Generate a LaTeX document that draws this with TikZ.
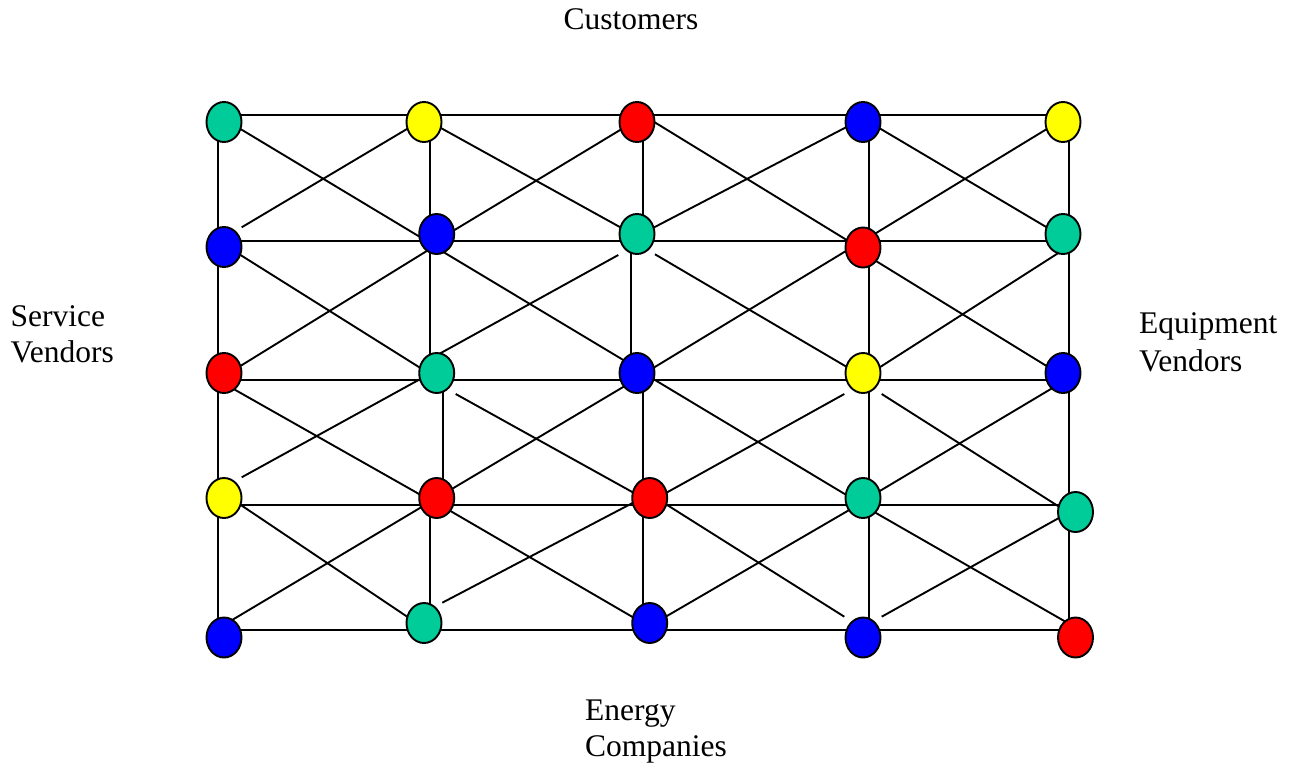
\documentclass[tikz,border=0pt]{standalone}
\usepackage{fontspec}
\setmainfont{Liberation Serif}
\usetikzlibrary{shapes.geometric}
\definecolor{cgreen}{RGB}{0,204,153}
\definecolor{cred}{RGB}{255,0,0}
\definecolor{cyellow}{RGB}{255,255,0}
\definecolor{cblue}{RGB}{0,0,255}
\tikzset{
  edge/.style={draw=black, line width=1.9pt},
  vtx/.style={ellipse, draw=black, line width=1.9pt, minimum width=35pt, minimum height=40pt, inner sep=0pt},
  lbl/.style={inner sep=0pt, anchor=base west, font=\fontsize{31.5}{37}\selectfont}
}
\begin{document}
\begin{tikzpicture}[x=1pt,y=-1pt]
\useasboundingbox[fill=white] (0,0) rectangle (1299,771);
% grid and diagonal connectors
\foreach \n/\a/\b/\c/\d in {
 h1/217.7/115.3/1069.3/115.3, h2/217.7/240.7/1069.3/240.7, h3/217.7/380/1069.3/380,
 h4/217.7/505/1069.3/505, h5/217.7/630/1069.3/630,
 va/217.7/115.3/217.7/630,
 vb/430/115.3/430/380, vc/442.7/380/442.7/505, vd/430/505/430/630,
 ve/643.3/115.3/643.3/240.7, vf/631/240.7/631/380, vg/643.3/380/643.3/630,
 vh/869/115.3/869/630, vi/1069.3/115.3/1069.3/630,
 d1/217.7/115.3/430/243, d2/241.7/227.3/430/115.3,
 d3/217.7/240.7/430/374, d4/217.7/380/430/249,
 d5/430/122/643.3/240, d6/433/243/643.3/116,
 d7/430/244/643.3/372, d8/430/359/618.3/255,
 d9/643.3/115.3/863/250, d10/643.3/233/869/115.3,
 d11/869/122/1069.3/240.7, d12/863/241/1069.3/115.3,
 d13/655/254.3/869/380, d14/643.3/374/869/237,
 d15/863/253/1069.3/380, d16/863/378/1069.3/246,
 d17/217.7/380/436.7/504, d18/241.7/477.3/436.7/370,
 d19/220/491/424/628, d20/217.7/628.6/436.7/498,
 d21/455.7/394/649.7/501.7, d22/436.7/498/643.3/375,
 d23/436.7/503/649.7/627, d24/442.3/602.7/649.7/494,
 d25/643.3/373/863/505, d26/649.7/502/844.3/394,
 d27/881.7/394/1069/513, d28/863/501/1069.3/378,
 d29/649.7/494/844.3/616.7, d30/649.7/626/863/502,
 d31/869/509/1066/622, d32/881.7/616.7/1075/509}
{
  \coordinate (\n a) at (\a,\b);
  \coordinate (\n b) at (\c,\d);
  \draw[edge] (\n a) -- (\n b);
}
% nodes
\foreach \n/\x/\y/\c in {
 n11/224/122/cgreen, n12/424/122/cyellow, n13/637/122/cred, n14/863/122/cblue, n15/1063/122/cyellow,
 n21/224/247/cblue, n22/436.7/234/cblue, n23/637/234/cgreen, n24/863/247.5/cred, n25/1063/234/cgreen,
 n31/224/373/cred, n32/436.7/373/cgreen, n33/637/373/cblue, n34/863/373/cyellow, n35/1063/373/cblue,
 n41/224/498/cyellow, n42/436.7/498/cred, n43/649.7/498/cred, n44/863/498/cgreen, n45/1075.5/512/cgreen,
 n51/224/637.5/cblue, n52/424/623/cgreen, n53/649.7/623/cblue, n54/863/637.5/cblue, n55/1075.5/637.5/cred}
{
  \node[vtx, fill=\c] (\n) at (\x,\y) {};
}
% labels
\node[lbl] (cust) at (563.3,29) {Customers};
\node[lbl] (sv1) at (10.5,326) {Service};
\node[lbl] (sv2) at (10.5,362.7) {Vendors};
\node[lbl] (ev1) at (1139,333.3) {Equipment};
\node[lbl] (ev2) at (1139,371.7) {Vendors};
\node[lbl] (ec1) at (585,720) {Energy};
\node[lbl] (ec2) at (585,756.7) {Companies};
\end{tikzpicture}
\end{document}
